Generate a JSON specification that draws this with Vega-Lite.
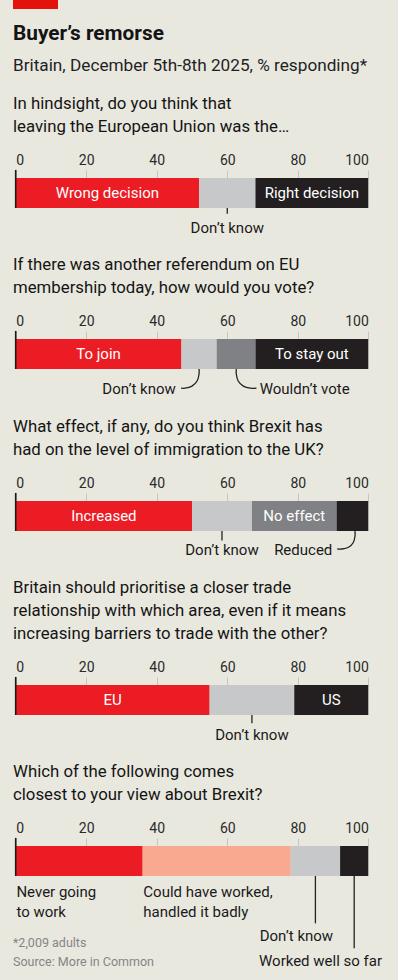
{
  "$schema": "https://vega.github.io/schema/vega-lite/v6.json",
  "background": "#E9E8DF",
  "padding": {"left": 12, "top": 0, "right": 16, "bottom": 0},
  "spacing": 0,
  "config": {
    "font": "Roboto",
    "view": {"stroke": null},
    "title": {"anchor": "start", "frame": "group", "fontSize": 16.8, "fontWeight": "normal", "lineHeight": 23, "color": "#141414", "offset": 17}
  },
  "datasets": {
    "bars": [
      {"q": 1, "answer": "Wrong decision", "pct": 52, "rank": 1, "label": "Wrong decision"},
      {"q": 1, "answer": "Don’t know", "pct": 16, "rank": 2, "label": ""},
      {"q": 1, "answer": "Right decision", "pct": 32, "rank": 3, "label": "Right decision"},
      {"q": 2, "answer": "To join", "pct": 47, "rank": 1, "label": "To join"},
      {"q": 2, "answer": "Don’t know", "pct": 10, "rank": 2, "label": ""},
      {"q": 2, "answer": "Wouldn’t vote", "pct": 11, "rank": 3, "label": ""},
      {"q": 2, "answer": "To stay out", "pct": 32, "rank": 4, "label": "To stay out"},
      {"q": 3, "answer": "Increased", "pct": 50, "rank": 1, "label": "Increased"},
      {"q": 3, "answer": "Don’t know", "pct": 17, "rank": 2, "label": ""},
      {"q": 3, "answer": "No effect", "pct": 24, "rank": 3, "label": "No effect"},
      {"q": 3, "answer": "Reduced", "pct": 9, "rank": 4, "label": ""},
      {"q": 4, "answer": "EU", "pct": 55, "rank": 1, "label": "EU"},
      {"q": 4, "answer": "Don’t know", "pct": 24, "rank": 2, "label": ""},
      {"q": 4, "answer": "US", "pct": 21, "rank": 3, "label": "US"},
      {"q": 5, "answer": "Never going to work", "pct": 36, "rank": 1, "label": ""},
      {"q": 5, "answer": "Could have worked, handled it badly", "pct": 42, "rank": 2, "label": ""},
      {"q": 5, "answer": "Don’t know", "pct": 14, "rank": 3, "label": ""},
      {"q": 5, "answer": "Worked well so far", "pct": 8, "rank": 4, "label": ""}
    ],
    "notes_center": [
      {"q": 1, "text": "Don’t know", "x": 60, "y": 1.677},
      {"q": 3, "text": "Don’t know", "x": 58.5, "y": 1.65},
      {"q": 4, "text": "Don’t know", "x": 67, "y": 1.667}
    ],
    "notes_right": [
      {"q": 2, "text": "Don’t know", "x": 45.4, "y": 1.66},
      {"q": 3, "text": "Reduced", "x": 89.8, "y": 1.63}
    ],
    "notes_left": [
      {"q": 2, "text": "Wouldn’t vote", "x": 69.2, "y": 1.66},
      {"q": 5, "text": "Never going", "x": 0.2, "y": 1.52},
      {"q": 5, "text": "to work", "x": 0.2, "y": 2.187},
      {"q": 5, "text": "Could have worked,", "x": 36.2, "y": 1.52},
      {"q": 5, "text": "handled it badly", "x": 36.2, "y": 2.187},
      {"q": 5, "text": "Don’t know", "x": 69.2, "y": 3.0},
      {"q": 5, "text": "Worked well so far", "x": 69.0, "y": 3.833}
    ],
    "footnotes": [
      {"q": 5, "text": "*2,009 adults", "x": -0.77, "y": 3.243},
      {"q": 5, "text": "Source: More in Common", "x": -0.77, "y": 3.867}
    ],
    "lines": [
      {"q": 1, "id": "dk", "i": 1, "x": 60, "y": 1.0},
      {"q": 1, "id": "dk", "i": 2, "x": 60, "y": 1.19},
      {"q": 2, "id": "dk", "i": 1, "x": 52.0, "y": 1.0},
      {"q": 2, "id": "dk", "i": 2, "x": 52.0, "y": 1.167},
      {"q": 2, "id": "dk", "i": 3, "x": 51.45, "y": 1.4},
      {"q": 2, "id": "dk", "i": 4, "x": 50.0, "y": 1.57},
      {"q": 2, "id": "dk", "i": 5, "x": 48.0, "y": 1.64},
      {"q": 2, "id": "dk", "i": 6, "x": 46.9, "y": 1.64},
      {"q": 2, "id": "wv", "i": 1, "x": 62.56, "y": 1.0},
      {"q": 2, "id": "wv", "i": 2, "x": 62.56, "y": 1.167},
      {"q": 2, "id": "wv", "i": 3, "x": 63.1, "y": 1.4},
      {"q": 2, "id": "wv", "i": 4, "x": 64.55, "y": 1.57},
      {"q": 2, "id": "wv", "i": 5, "x": 66.53, "y": 1.64},
      {"q": 2, "id": "wv", "i": 6, "x": 68.29, "y": 1.64},
      {"q": 3, "id": "dk", "i": 1, "x": 58.5, "y": 1.0},
      {"q": 3, "id": "dk", "i": 2, "x": 58.5, "y": 1.317},
      {"q": 3, "id": "rd", "i": 1, "x": 96.23, "y": 1.0},
      {"q": 3, "id": "rd", "i": 2, "x": 96.23, "y": 1.167},
      {"q": 3, "id": "rd", "i": 3, "x": 95.75, "y": 1.383},
      {"q": 3, "id": "rd", "i": 4, "x": 94.39, "y": 1.543},
      {"q": 3, "id": "rd", "i": 5, "x": 92.55, "y": 1.6},
      {"q": 3, "id": "rd", "i": 6, "x": 91.21, "y": 1.6},
      {"q": 4, "id": "dk", "i": 1, "x": 67, "y": 1.0},
      {"q": 4, "id": "dk", "i": 2, "x": 67, "y": 1.277},
      {"q": 5, "id": "dk", "i": 1, "x": 85, "y": 1.0},
      {"q": 5, "id": "dk", "i": 2, "x": 85, "y": 2.577},
      {"q": 5, "id": "ww", "i": 1, "x": 96, "y": 1.0},
      {"q": 5, "id": "ww", "i": 2, "x": 96, "y": 3.41}
    ]
  },
  "vconcat": [
    {
      "width": 45,
      "height": 9,
      "view": {"fill": "#E3120B", "stroke": null},
      "title": {
        "text": "Buyer’s remorse",
        "subtitle": ["Britain, December 5th-8th 2025, % responding*", " "],
        "orient": "bottom",
        "fontSize": 20.8,
        "fontWeight": "bold",
        "offset": 15,
        "subtitleFontSize": 17.2,
        "subtitleColor": "#1f1f1f",
        "subtitlePadding": 12,
        "subtitleLineHeight": 21.5
      },
      "data": {"values": [{}]},
      "mark": {"type": "rect", "color": "#E3120B"},
      "encoding": {}
    },
    {
      "width": 356,
      "height": 78.5,
      "title": {"text": ["In hindsight, do you think that", "leaving the European Union was the…"]},
      "layer": [
        {
          "data": {"name": "bars"},
          "transform": [{"filter": "datum.q === 1"}, {"stack": "pct", "groupby": ["q"], "sort": [{"field": "rank"}], "as": ["x0", "x1"]}],
          "mark": {"type": "rect"},
          "encoding": {
            "x": {"field": "x0", "type": "quantitative", "scale": {"domain": [0, 100], "range": [2.7, 355.3], "nice": false, "zero": false}, "axis": {"orient": "top", "values": [0, 20, 40, 60, 80, 100], "domain": false, "grid": false, "tickSize": 8, "tickColor": "#C6C6BE", "labelFontSize": 14, "labelColor": "#2a2a2a", "labelPadding": 3, "title": null}},
            "x2": {"field": "x1"},
            "y": {"datum": 0, "type": "quantitative", "scale": {"domain": [0, 2.617], "reverse": true, "nice": false, "zero": false}, "axis": null},
            "y2": {"datum": 1},
            "color": {"field": "answer", "type": "nominal", "legend": null,
              "scale": {"domain": ["Wrong decision", "Right decision", "To join", "To stay out", "Wouldn’t vote", "Increased", "No effect", "Reduced", "EU", "US", "Never going to work", "Could have worked, handled it badly", "Worked well so far", "Don’t know"],
                "range": ["#EC1C24", "#231F20", "#EC1C24", "#231F20", "#808184", "#EC1C24", "#808184", "#231F20", "#EC1C24", "#231F20", "#EC1C24", "#F9A98F", "#231F20", "#C7C8CA"]}}
          }
        },
        {
          "data": {"name": "bars"},
          "transform": [{"filter": "datum.q === 1"}],
          "mark": {"type": "text", "color": "#ffffff", "fontSize": 15, "baseline": "middle", "align": "center"},
          "encoding": {
            "x": {"field": "pct", "type": "quantitative", "stack": "zero", "bandPosition": 0.5, "scale": {"domain": [0, 100], "range": [2.7, 355.3], "nice": false, "zero": false}, "axis": {"orient": "top", "values": [0, 20, 40, 60, 80, 100], "domain": false, "grid": false, "tickSize": 8, "tickColor": "#C6C6BE", "labelFontSize": 14, "labelColor": "#2a2a2a", "labelPadding": 3, "title": null}},
            "order": {"field": "rank"},
            "y": {"datum": 0.5, "type": "quantitative", "scale": {"domain": [0, 2.617], "reverse": true, "nice": false, "zero": false}, "axis": null},
            "text": {"field": "label"}
          }
        },
        {
          "data": {"name": "bars"},
          "transform": [{"filter": "datum.q === 1 && datum.rank === 1"}],
          "mark": {"type": "rule", "color": "#1a1a1a", "strokeWidth": 1.6},
          "encoding": {
            "x": {"datum": 0, "type": "quantitative", "scale": {"domain": [0, 100], "range": [2.7, 355.3], "nice": false, "zero": false}, "axis": {"orient": "top", "values": [0, 20, 40, 60, 80, 100], "domain": false, "grid": false, "tickSize": 8, "tickColor": "#C6C6BE", "labelFontSize": 14, "labelColor": "#2a2a2a", "labelPadding": 3, "title": null}},
            "y": {"datum": -0.27, "type": "quantitative", "scale": {"domain": [0, 2.617], "reverse": true, "nice": false, "zero": false}, "axis": null},
            "y2": {"datum": 1}
          }
        },
        {
          "data": {"name": "lines"},
          "transform": [{"filter": "datum.q === 1"}],
          "mark": {"type": "line", "color": "#222222", "strokeWidth": 1.3, "interpolate": "catmull-rom"},
          "encoding": {
            "x": {"field": "x", "type": "quantitative", "scale": {"domain": [0, 100], "range": [2.7, 355.3], "nice": false, "zero": false}, "axis": {"orient": "top", "values": [0, 20, 40, 60, 80, 100], "domain": false, "grid": false, "tickSize": 8, "tickColor": "#C6C6BE", "labelFontSize": 14, "labelColor": "#2a2a2a", "labelPadding": 3, "title": null}},
            "y": {"field": "y", "type": "quantitative", "scale": {"domain": [0, 2.617], "reverse": true, "nice": false, "zero": false}, "axis": null},
            "detail": {"field": "id"},
            "order": {"field": "i"}
          }
        },
        {
          "data": {"name": "notes_center"},
          "transform": [{"filter": "datum.q === 1"}],
          "mark": {"type": "text", "align": "center", "baseline": "middle", "fontSize": 15, "color": "#1a1a1a"},
          "encoding": {
            "x": {"field": "x", "type": "quantitative", "scale": {"domain": [0, 100], "range": [2.7, 355.3], "nice": false, "zero": false}, "axis": {"orient": "top", "values": [0, 20, 40, 60, 80, 100], "domain": false, "grid": false, "tickSize": 8, "tickColor": "#C6C6BE", "labelFontSize": 14, "labelColor": "#2a2a2a", "labelPadding": 3, "title": null}},
            "y": {"field": "y", "type": "quantitative", "scale": {"domain": [0, 2.617], "reverse": true, "nice": false, "zero": false}, "axis": null},
            "text": {"field": "text"}
          }
        }
      ]
    },
    {
      "width": 356,
      "height": 79.6,
      "title": {"text": ["If there was another referendum on EU", "membership today, how would you vote?"]},
      "layer": [
        {
          "data": {"name": "bars"},
          "transform": [{"filter": "datum.q === 2"}, {"stack": "pct", "groupby": ["q"], "sort": [{"field": "rank"}], "as": ["x0", "x1"]}],
          "mark": {"type": "rect"},
          "encoding": {
            "x": {"field": "x0", "type": "quantitative", "scale": {"domain": [0, 100], "range": [2.7, 355.3], "nice": false, "zero": false}, "axis": {"orient": "top", "values": [0, 20, 40, 60, 80, 100], "domain": false, "grid": false, "tickSize": 8, "tickColor": "#C6C6BE", "labelFontSize": 14, "labelColor": "#2a2a2a", "labelPadding": 3, "title": null}},
            "x2": {"field": "x1"},
            "y": {"datum": 0, "type": "quantitative", "scale": {"domain": [0, 2.653], "reverse": true, "nice": false, "zero": false}, "axis": null},
            "y2": {"datum": 1},
            "color": {"field": "answer", "type": "nominal", "legend": null}
          }
        },
        {
          "data": {"name": "bars"},
          "transform": [{"filter": "datum.q === 2"}],
          "mark": {"type": "text", "color": "#ffffff", "fontSize": 15, "baseline": "middle", "align": "center"},
          "encoding": {
            "x": {"field": "pct", "type": "quantitative", "stack": "zero", "bandPosition": 0.5, "scale": {"domain": [0, 100], "range": [2.7, 355.3], "nice": false, "zero": false}, "axis": {"orient": "top", "values": [0, 20, 40, 60, 80, 100], "domain": false, "grid": false, "tickSize": 8, "tickColor": "#C6C6BE", "labelFontSize": 14, "labelColor": "#2a2a2a", "labelPadding": 3, "title": null}},
            "order": {"field": "rank"},
            "y": {"datum": 0.5, "type": "quantitative", "scale": {"domain": [0, 2.653], "reverse": true, "nice": false, "zero": false}, "axis": null},
            "text": {"field": "label"}
          }
        },
        {
          "data": {"name": "bars"},
          "transform": [{"filter": "datum.q === 2 && datum.rank === 1"}],
          "mark": {"type": "rule", "color": "#1a1a1a", "strokeWidth": 1.6},
          "encoding": {
            "x": {"datum": 0, "type": "quantitative", "scale": {"domain": [0, 100], "range": [2.7, 355.3], "nice": false, "zero": false}, "axis": {"orient": "top", "values": [0, 20, 40, 60, 80, 100], "domain": false, "grid": false, "tickSize": 8, "tickColor": "#C6C6BE", "labelFontSize": 14, "labelColor": "#2a2a2a", "labelPadding": 3, "title": null}},
            "y": {"datum": -0.27, "type": "quantitative", "scale": {"domain": [0, 2.653], "reverse": true, "nice": false, "zero": false}, "axis": null},
            "y2": {"datum": 1}
          }
        },
        {
          "data": {"name": "lines"},
          "transform": [{"filter": "datum.q === 2"}],
          "mark": {"type": "line", "color": "#222222", "strokeWidth": 1.3, "interpolate": "catmull-rom"},
          "encoding": {
            "x": {"field": "x", "type": "quantitative", "scale": {"domain": [0, 100], "range": [2.7, 355.3], "nice": false, "zero": false}, "axis": {"orient": "top", "values": [0, 20, 40, 60, 80, 100], "domain": false, "grid": false, "tickSize": 8, "tickColor": "#C6C6BE", "labelFontSize": 14, "labelColor": "#2a2a2a", "labelPadding": 3, "title": null}},
            "y": {"field": "y", "type": "quantitative", "scale": {"domain": [0, 2.653], "reverse": true, "nice": false, "zero": false}, "axis": null},
            "detail": {"field": "id"},
            "order": {"field": "i"}
          }
        },
        {
          "data": {"name": "notes_right"},
          "transform": [{"filter": "datum.q === 2"}],
          "mark": {"type": "text", "align": "right", "baseline": "middle", "fontSize": 15, "color": "#1a1a1a"},
          "encoding": {
            "x": {"field": "x", "type": "quantitative", "scale": {"domain": [0, 100], "range": [2.7, 355.3], "nice": false, "zero": false}, "axis": {"orient": "top", "values": [0, 20, 40, 60, 80, 100], "domain": false, "grid": false, "tickSize": 8, "tickColor": "#C6C6BE", "labelFontSize": 14, "labelColor": "#2a2a2a", "labelPadding": 3, "title": null}},
            "y": {"field": "y", "type": "quantitative", "scale": {"domain": [0, 2.653], "reverse": true, "nice": false, "zero": false}, "axis": null},
            "text": {"field": "text"}
          }
        },
        {
          "data": {"name": "notes_left"},
          "transform": [{"filter": "datum.q === 2"}],
          "mark": {"type": "text", "align": "left", "baseline": "middle", "fontSize": 15, "color": "#1a1a1a"},
          "encoding": {
            "x": {"field": "x", "type": "quantitative", "scale": {"domain": [0, 100], "range": [2.7, 355.3], "nice": false, "zero": false}, "axis": {"orient": "top", "values": [0, 20, 40, 60, 80, 100], "domain": false, "grid": false, "tickSize": 8, "tickColor": "#C6C6BE", "labelFontSize": 14, "labelColor": "#2a2a2a", "labelPadding": 3, "title": null}},
            "y": {"field": "y", "type": "quantitative", "scale": {"domain": [0, 2.653], "reverse": true, "nice": false, "zero": false}, "axis": null},
            "text": {"field": "text"}
          }
        }
      ]
    },
    {
      "width": 356,
      "height": 78.8,
      "title": {"text": ["What effect, if any, do you think Brexit has", "had on the level of immigration to the UK?"]},
      "layer": [
        {
          "data": {"name": "bars"},
          "transform": [{"filter": "datum.q === 3"}, {"stack": "pct", "groupby": ["q"], "sort": [{"field": "rank"}], "as": ["x0", "x1"]}],
          "mark": {"type": "rect"},
          "encoding": {
            "x": {"field": "x0", "type": "quantitative", "scale": {"domain": [0, 100], "range": [2.7, 355.3], "nice": false, "zero": false}, "axis": {"orient": "top", "values": [0, 20, 40, 60, 80, 100], "domain": false, "grid": false, "tickSize": 8, "tickColor": "#C6C6BE", "labelFontSize": 14, "labelColor": "#2a2a2a", "labelPadding": 3, "title": null}},
            "x2": {"field": "x1"},
            "y": {"datum": 0, "type": "quantitative", "scale": {"domain": [0, 2.627], "reverse": true, "nice": false, "zero": false}, "axis": null},
            "y2": {"datum": 1},
            "color": {"field": "answer", "type": "nominal", "legend": null}
          }
        },
        {
          "data": {"name": "bars"},
          "transform": [{"filter": "datum.q === 3"}],
          "mark": {"type": "text", "color": "#ffffff", "fontSize": 15, "baseline": "middle", "align": "center"},
          "encoding": {
            "x": {"field": "pct", "type": "quantitative", "stack": "zero", "bandPosition": 0.5, "scale": {"domain": [0, 100], "range": [2.7, 355.3], "nice": false, "zero": false}, "axis": {"orient": "top", "values": [0, 20, 40, 60, 80, 100], "domain": false, "grid": false, "tickSize": 8, "tickColor": "#C6C6BE", "labelFontSize": 14, "labelColor": "#2a2a2a", "labelPadding": 3, "title": null}},
            "order": {"field": "rank"},
            "y": {"datum": 0.5, "type": "quantitative", "scale": {"domain": [0, 2.627], "reverse": true, "nice": false, "zero": false}, "axis": null},
            "text": {"field": "label"}
          }
        },
        {
          "data": {"name": "bars"},
          "transform": [{"filter": "datum.q === 3 && datum.rank === 1"}],
          "mark": {"type": "rule", "color": "#1a1a1a", "strokeWidth": 1.6},
          "encoding": {
            "x": {"datum": 0, "type": "quantitative", "scale": {"domain": [0, 100], "range": [2.7, 355.3], "nice": false, "zero": false}, "axis": {"orient": "top", "values": [0, 20, 40, 60, 80, 100], "domain": false, "grid": false, "tickSize": 8, "tickColor": "#C6C6BE", "labelFontSize": 14, "labelColor": "#2a2a2a", "labelPadding": 3, "title": null}},
            "y": {"datum": -0.27, "type": "quantitative", "scale": {"domain": [0, 2.627], "reverse": true, "nice": false, "zero": false}, "axis": null},
            "y2": {"datum": 1}
          }
        },
        {
          "data": {"name": "lines"},
          "transform": [{"filter": "datum.q === 3"}],
          "mark": {"type": "line", "color": "#222222", "strokeWidth": 1.3, "interpolate": "catmull-rom"},
          "encoding": {
            "x": {"field": "x", "type": "quantitative", "scale": {"domain": [0, 100], "range": [2.7, 355.3], "nice": false, "zero": false}, "axis": {"orient": "top", "values": [0, 20, 40, 60, 80, 100], "domain": false, "grid": false, "tickSize": 8, "tickColor": "#C6C6BE", "labelFontSize": 14, "labelColor": "#2a2a2a", "labelPadding": 3, "title": null}},
            "y": {"field": "y", "type": "quantitative", "scale": {"domain": [0, 2.627], "reverse": true, "nice": false, "zero": false}, "axis": null},
            "detail": {"field": "id"},
            "order": {"field": "i"}
          }
        },
        {
          "data": {"name": "notes_center"},
          "transform": [{"filter": "datum.q === 3"}],
          "mark": {"type": "text", "align": "center", "baseline": "middle", "fontSize": 15, "color": "#1a1a1a"},
          "encoding": {
            "x": {"field": "x", "type": "quantitative", "scale": {"domain": [0, 100], "range": [2.7, 355.3], "nice": false, "zero": false}, "axis": {"orient": "top", "values": [0, 20, 40, 60, 80, 100], "domain": false, "grid": false, "tickSize": 8, "tickColor": "#C6C6BE", "labelFontSize": 14, "labelColor": "#2a2a2a", "labelPadding": 3, "title": null}},
            "y": {"field": "y", "type": "quantitative", "scale": {"domain": [0, 2.627], "reverse": true, "nice": false, "zero": false}, "axis": null},
            "text": {"field": "text"}
          }
        },
        {
          "data": {"name": "notes_right"},
          "transform": [{"filter": "datum.q === 3"}],
          "mark": {"type": "text", "align": "right", "baseline": "middle", "fontSize": 15, "color": "#1a1a1a"},
          "encoding": {
            "x": {"field": "x", "type": "quantitative", "scale": {"domain": [0, 100], "range": [2.7, 355.3], "nice": false, "zero": false}, "axis": {"orient": "top", "values": [0, 20, 40, 60, 80, 100], "domain": false, "grid": false, "tickSize": 8, "tickColor": "#C6C6BE", "labelFontSize": 14, "labelColor": "#2a2a2a", "labelPadding": 3, "title": null}},
            "y": {"field": "y", "type": "quantitative", "scale": {"domain": [0, 2.627], "reverse": true, "nice": false, "zero": false}, "axis": null},
            "text": {"field": "text"}
          }
        }
      ]
    },
    {
      "width": 356,
      "height": 78.6,
      "title": {"text": ["Britain should prioritise a closer trade", "relationship with which area, even if it means", "increasing barriers to trade with the other?"]},
      "layer": [
        {
          "data": {"name": "bars"},
          "transform": [{"filter": "datum.q === 4"}, {"stack": "pct", "groupby": ["q"], "sort": [{"field": "rank"}], "as": ["x0", "x1"]}],
          "mark": {"type": "rect"},
          "encoding": {
            "x": {"field": "x0", "type": "quantitative", "scale": {"domain": [0, 100], "range": [2.7, 355.3], "nice": false, "zero": false}, "axis": {"orient": "top", "values": [0, 20, 40, 60, 80, 100], "domain": false, "grid": false, "tickSize": 8, "tickColor": "#C6C6BE", "labelFontSize": 14, "labelColor": "#2a2a2a", "labelPadding": 3, "title": null}},
            "x2": {"field": "x1"},
            "y": {"datum": 0, "type": "quantitative", "scale": {"domain": [0, 2.62], "reverse": true, "nice": false, "zero": false}, "axis": null},
            "y2": {"datum": 1},
            "color": {"field": "answer", "type": "nominal", "legend": null}
          }
        },
        {
          "data": {"name": "bars"},
          "transform": [{"filter": "datum.q === 4"}],
          "mark": {"type": "text", "color": "#ffffff", "fontSize": 15, "baseline": "middle", "align": "center"},
          "encoding": {
            "x": {"field": "pct", "type": "quantitative", "stack": "zero", "bandPosition": 0.5, "scale": {"domain": [0, 100], "range": [2.7, 355.3], "nice": false, "zero": false}, "axis": {"orient": "top", "values": [0, 20, 40, 60, 80, 100], "domain": false, "grid": false, "tickSize": 8, "tickColor": "#C6C6BE", "labelFontSize": 14, "labelColor": "#2a2a2a", "labelPadding": 3, "title": null}},
            "order": {"field": "rank"},
            "y": {"datum": 0.5, "type": "quantitative", "scale": {"domain": [0, 2.62], "reverse": true, "nice": false, "zero": false}, "axis": null},
            "text": {"field": "label"}
          }
        },
        {
          "data": {"name": "bars"},
          "transform": [{"filter": "datum.q === 4 && datum.rank === 1"}],
          "mark": {"type": "rule", "color": "#1a1a1a", "strokeWidth": 1.6},
          "encoding": {
            "x": {"datum": 0, "type": "quantitative", "scale": {"domain": [0, 100], "range": [2.7, 355.3], "nice": false, "zero": false}, "axis": {"orient": "top", "values": [0, 20, 40, 60, 80, 100], "domain": false, "grid": false, "tickSize": 8, "tickColor": "#C6C6BE", "labelFontSize": 14, "labelColor": "#2a2a2a", "labelPadding": 3, "title": null}},
            "y": {"datum": -0.27, "type": "quantitative", "scale": {"domain": [0, 2.62], "reverse": true, "nice": false, "zero": false}, "axis": null},
            "y2": {"datum": 1}
          }
        },
        {
          "data": {"name": "lines"},
          "transform": [{"filter": "datum.q === 4"}],
          "mark": {"type": "line", "color": "#222222", "strokeWidth": 1.3, "interpolate": "catmull-rom"},
          "encoding": {
            "x": {"field": "x", "type": "quantitative", "scale": {"domain": [0, 100], "range": [2.7, 355.3], "nice": false, "zero": false}, "axis": {"orient": "top", "values": [0, 20, 40, 60, 80, 100], "domain": false, "grid": false, "tickSize": 8, "tickColor": "#C6C6BE", "labelFontSize": 14, "labelColor": "#2a2a2a", "labelPadding": 3, "title": null}},
            "y": {"field": "y", "type": "quantitative", "scale": {"domain": [0, 2.62], "reverse": true, "nice": false, "zero": false}, "axis": null},
            "detail": {"field": "id"},
            "order": {"field": "i"}
          }
        },
        {
          "data": {"name": "notes_center"},
          "transform": [{"filter": "datum.q === 4"}],
          "mark": {"type": "text", "align": "center", "baseline": "middle", "fontSize": 15, "color": "#1a1a1a"},
          "encoding": {
            "x": {"field": "x", "type": "quantitative", "scale": {"domain": [0, 100], "range": [2.7, 355.3], "nice": false, "zero": false}, "axis": {"orient": "top", "values": [0, 20, 40, 60, 80, 100], "domain": false, "grid": false, "tickSize": 8, "tickColor": "#C6C6BE", "labelFontSize": 14, "labelColor": "#2a2a2a", "labelPadding": 3, "title": null}},
            "y": {"field": "y", "type": "quantitative", "scale": {"domain": [0, 2.62], "reverse": true, "nice": false, "zero": false}, "axis": null},
            "text": {"field": "text"}
          }
        }
      ]
    },
    {
      "width": 356,
      "height": 133.3,
      "title": {"text": ["Which of the following comes", "closest to your view about Brexit?"]},
      "layer": [
        {
          "data": {"name": "bars"},
          "transform": [{"filter": "datum.q === 5"}, {"stack": "pct", "groupby": ["q"], "sort": [{"field": "rank"}], "as": ["x0", "x1"]}],
          "mark": {"type": "rect"},
          "encoding": {
            "x": {"field": "x0", "type": "quantitative", "scale": {"domain": [0, 100], "range": [2.7, 355.3], "nice": false, "zero": false}, "axis": {"orient": "top", "values": [0, 20, 40, 60, 80, 100], "domain": false, "grid": false, "tickSize": 8, "tickColor": "#C6C6BE", "labelFontSize": 14, "labelColor": "#2a2a2a", "labelPadding": 3, "title": null}},
            "x2": {"field": "x1"},
            "y": {"datum": 0, "type": "quantitative", "scale": {"domain": [0, 4.443], "reverse": true, "nice": false, "zero": false}, "axis": null},
            "y2": {"datum": 1},
            "color": {"field": "answer", "type": "nominal", "legend": null}
          }
        },
        {
          "data": {"name": "bars"},
          "transform": [{"filter": "datum.q === 5 && datum.rank === 1"}],
          "mark": {"type": "rule", "color": "#1a1a1a", "strokeWidth": 1.6},
          "encoding": {
            "x": {"datum": 0, "type": "quantitative", "scale": {"domain": [0, 100], "range": [2.7, 355.3], "nice": false, "zero": false}, "axis": {"orient": "top", "values": [0, 20, 40, 60, 80, 100], "domain": false, "grid": false, "tickSize": 8, "tickColor": "#C6C6BE", "labelFontSize": 14, "labelColor": "#2a2a2a", "labelPadding": 3, "title": null}},
            "y": {"datum": -0.27, "type": "quantitative", "scale": {"domain": [0, 4.443], "reverse": true, "nice": false, "zero": false}, "axis": null},
            "y2": {"datum": 1}
          }
        },
        {
          "data": {"name": "lines"},
          "transform": [{"filter": "datum.q === 5"}],
          "mark": {"type": "line", "color": "#222222", "strokeWidth": 1.3, "interpolate": "catmull-rom"},
          "encoding": {
            "x": {"field": "x", "type": "quantitative", "scale": {"domain": [0, 100], "range": [2.7, 355.3], "nice": false, "zero": false}, "axis": {"orient": "top", "values": [0, 20, 40, 60, 80, 100], "domain": false, "grid": false, "tickSize": 8, "tickColor": "#C6C6BE", "labelFontSize": 14, "labelColor": "#2a2a2a", "labelPadding": 3, "title": null}},
            "y": {"field": "y", "type": "quantitative", "scale": {"domain": [0, 4.443], "reverse": true, "nice": false, "zero": false}, "axis": null},
            "detail": {"field": "id"},
            "order": {"field": "i"}
          }
        },
        {
          "data": {"name": "notes_left"},
          "transform": [{"filter": "datum.q === 5"}],
          "mark": {"type": "text", "align": "left", "baseline": "middle", "fontSize": 15, "color": "#1a1a1a"},
          "encoding": {
            "x": {"field": "x", "type": "quantitative", "scale": {"domain": [0, 100], "range": [2.7, 355.3], "nice": false, "zero": false}, "axis": {"orient": "top", "values": [0, 20, 40, 60, 80, 100], "domain": false, "grid": false, "tickSize": 8, "tickColor": "#C6C6BE", "labelFontSize": 14, "labelColor": "#2a2a2a", "labelPadding": 3, "title": null}},
            "y": {"field": "y", "type": "quantitative", "scale": {"domain": [0, 4.443], "reverse": true, "nice": false, "zero": false}, "axis": null},
            "text": {"field": "text"}
          }
        },
        {
          "data": {"name": "footnotes"},
          "transform": [{"filter": "datum.q === 5"}],
          "mark": {"type": "text", "align": "left", "baseline": "middle", "fontSize": 12.5, "color": "#858585"},
          "encoding": {
            "x": {"field": "x", "type": "quantitative", "scale": {"domain": [0, 100], "range": [2.7, 355.3], "nice": false, "zero": false}, "axis": {"orient": "top", "values": [0, 20, 40, 60, 80, 100], "domain": false, "grid": false, "tickSize": 8, "tickColor": "#C6C6BE", "labelFontSize": 14, "labelColor": "#2a2a2a", "labelPadding": 3, "title": null}},
            "y": {"field": "y", "type": "quantitative", "scale": {"domain": [0, 4.443], "reverse": true, "nice": false, "zero": false}, "axis": null},
            "text": {"field": "text"}
          }
        }
      ]
    }
  ],
  "resolve": {"scale": {"x": "independent", "y": "independent"}}
}
